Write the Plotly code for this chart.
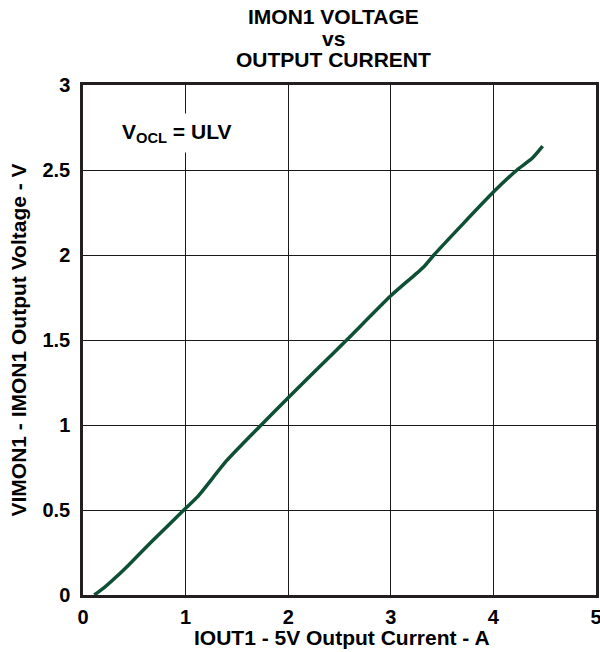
import plotly.graph_objects as go

current_a = [0.11, 0.2, 0.33, 0.45, 0.68, 1.0, 1.12, 1.4, 1.72, 2.0, 2.3, 2.57, 3.0, 3.32, 3.42, 4.0, 4.23, 4.38, 4.48]
voltage_v = [0.0, 0.04, 0.11, 0.18, 0.32, 0.51, 0.58, 0.79, 0.99, 1.16, 1.34, 1.50, 1.76, 1.93, 2.0, 2.37, 2.5, 2.57, 2.64]

x_ticks = [0, 1, 2, 3, 4, 5]
x_ticklabels = ["0", "1", "2", "3", "4", "5"]
y_ticks = [0, 0.5, 1, 1.5, 2, 2.5, 3]
y_ticklabels = ["0", "0.5", "1", "1.5", "2", "2.5", "3"]

title_lines = ["IMON1 VOLTAGE", "vs", "OUTPUT CURRENT"]
x_title = "IOUT1 - 5V Output Current - A"
y_title = "VIMON1 - IMON1 Output Voltage - V"

font_family = "Liberation Sans, Arial, sans-serif"

# plot area in pixels
L, R, T, B = 83, 596, 85, 595
W, H = 600, 652


def px_x(px):
    return (px - L) / (R - L)


def px_y(py):
    return (B - py) / (B - T)


fig = go.Figure()
fig.add_trace(go.Scatter(
    x=current_a, y=voltage_v, mode="lines",
    line=dict(color="#0e4f36", width=3.5, shape="spline", smoothing=0.6),
    showlegend=False, hoverinfo="skip",
))

axis_common = dict(
    showgrid=True, gridcolor="#1a1a1a", gridwidth=1,
    zeroline=False, showline=True, linecolor="#231f20", linewidth=2.5, mirror=True,
    ticks="", automargin=False, ticklabeloverflow="allow",
    tickfont=dict(size=20, family=font_family, color="black", weight="bold"),
)

annotations = []
for text, py in zip(title_lines, [16, 38, 60]):
    annotations.append(dict(
        x=px_x(333), y=px_y(py), xref="paper", yref="paper",
        xanchor="center", yanchor="middle", text="<b>%s</b>" % text,
        showarrow=False, font=dict(size=21, family=font_family, color="black"),
    ))
annotations.append(dict(
    x=px_x(342), y=px_y(637), xref="paper", yref="paper",
    xanchor="center", yanchor="middle", text="<b>%s</b>" % x_title,
    showarrow=False, font=dict(size=21, family=font_family, color="black"),
))
annotations.append(dict(
    x=px_x(17.5), y=px_y(340), xref="paper", yref="paper",
    xanchor="center", yanchor="middle", text="<b>%s</b>" % y_title, textangle=-90,
    showarrow=False, font=dict(size=21, family=font_family, color="black"),
))
annotations.append(dict(
    x=0.31, y=2.72, xref="x", yref="y", xanchor="left", yanchor="middle",
    text="<b>V<sub>OCL</sub> = ULV</b>", showarrow=False,
    font=dict(size=21, family=font_family, color="black"),
    bgcolor="white", borderpad=6,
))

fig.update_layout(
    width=W, height=H,
    margin=dict(l=L, r=W - R, t=T, b=H - B, autoexpand=False),
    paper_bgcolor="white", plot_bgcolor="white",
    font=dict(family=font_family, color="black"),
    xaxis=dict(range=[0, 5], tickvals=x_ticks, ticktext=x_ticklabels,
               ticklabelstandoff=2, **axis_common),
    yaxis=dict(range=[0, 3], tickvals=y_ticks, ticktext=y_ticklabels,
               ticklabelstandoff=6, **axis_common),
    annotations=annotations,
)

fig.write_html(
    "out.html",
    config={"displayModeBar": False},
    post_script="document.body.style.margin='0';document.body.style.padding='0';",
)
